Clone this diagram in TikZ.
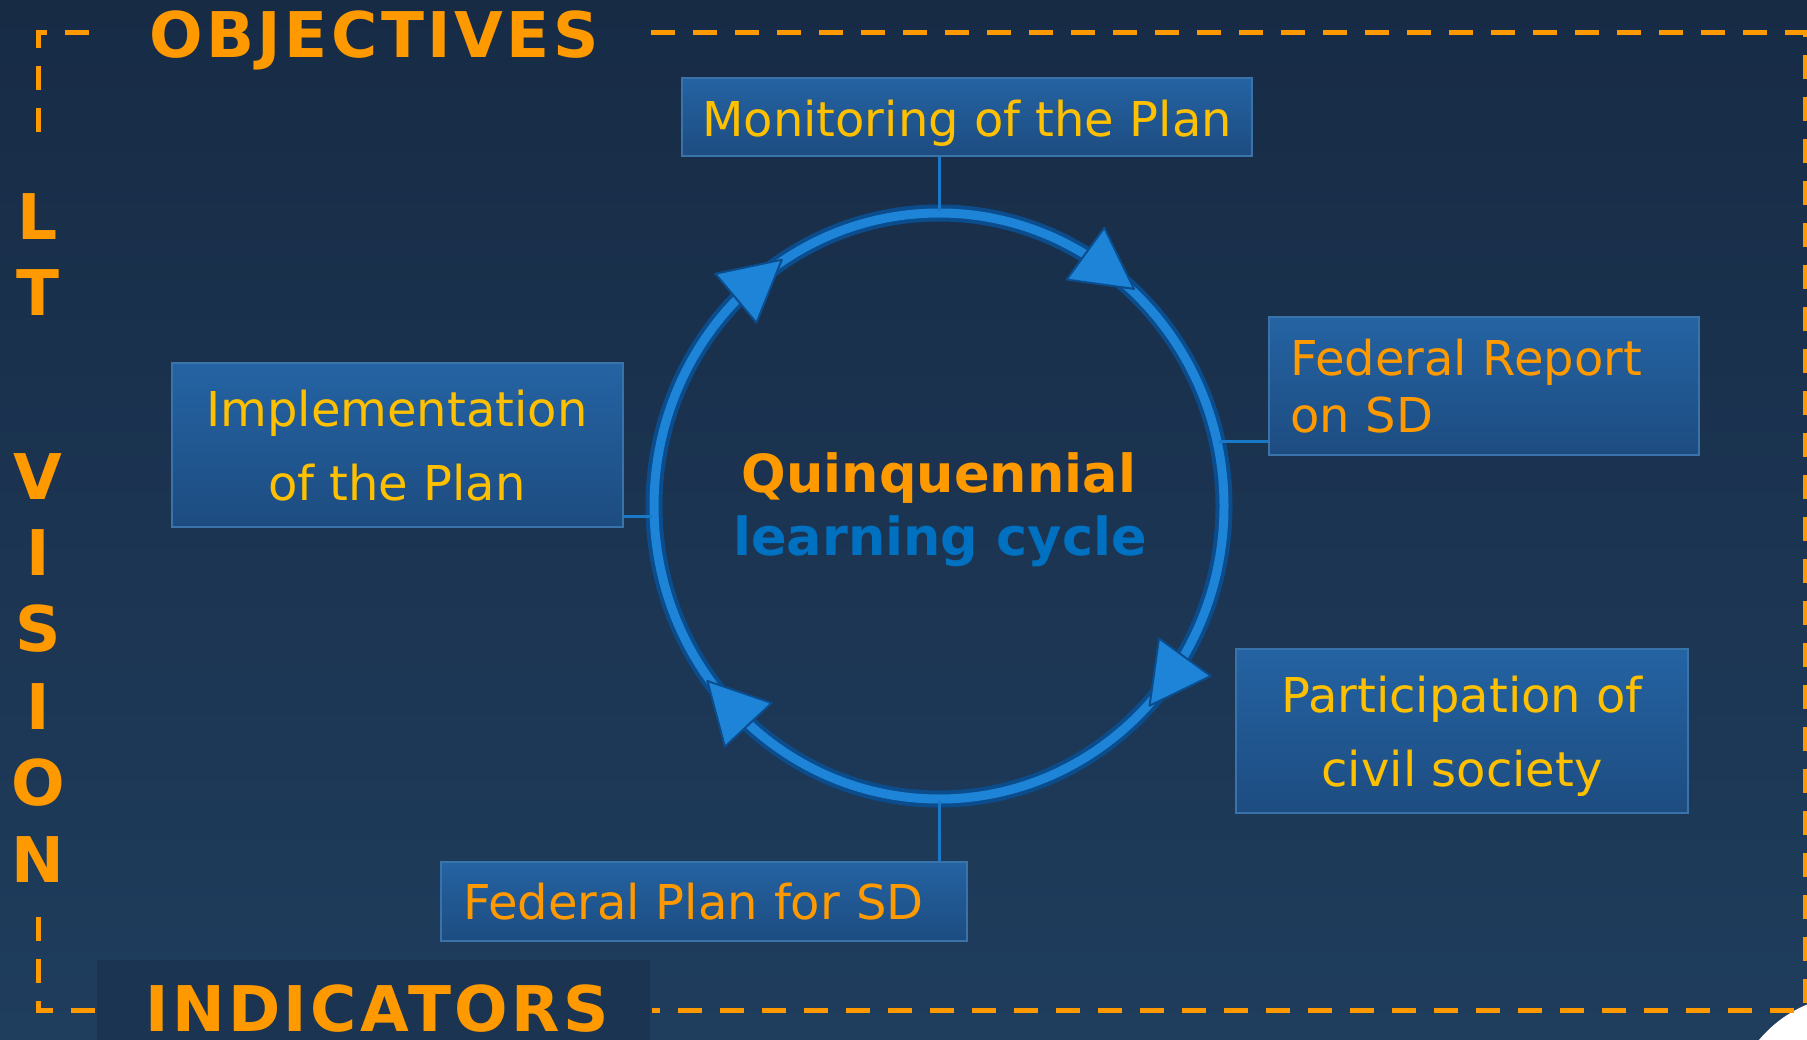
\documentclass[tikz,border=0pt]{standalone}
\usepackage{fontspec}
\setmainfont{DejaVu Sans}
\newfontfamily\spacedfont{DejaVu Sans}[LetterSpace=5.5]
\usetikzlibrary{shapes.geometric}

\definecolor{bgtop}{HTML}{172B45}
\definecolor{bgbot}{HTML}{1F3D5D}
\definecolor{patch}{HTML}{1B3451}
\definecolor{gold}{HTML}{FFC000}
\definecolor{titleorange}{HTML}{FF9900}
\definecolor{boxtop}{HTML}{2463A3}
\definecolor{boxbot}{HTML}{1D4C80}
\definecolor{boxline}{HTML}{3A72AA}
\definecolor{ringdark}{HTML}{0B4C8C}
\definecolor{ringmid}{HTML}{1E84D8}
\definecolor{linkblue}{HTML}{1A78C8}
\definecolor{cycleblue}{HTML}{0070C0}

\tikzset{
  planbox/.style={draw=boxline, line width=2pt, top color=boxtop, bottom color=boxbot,
    inner sep=0pt, font=\fontsize{48}{74}\selectfont},
  dashframe/.style={draw=titleorange, line width=5pt, dash pattern=on 24pt off 18pt},
  heading/.style={text=titleorange, font=\fontsize{63}{63}\selectfont\bfseries,
    inner sep=0pt, anchor=base},
  cycletext/.style={font=\fontsize{52.5}{52.5}\selectfont\bfseries, inner sep=0pt, anchor=base},
  link/.style={draw=linkblue, line width=3pt},
  ring/.style={ellipse, draw=ringdark, line width=4pt, double=ringmid, double distance=9pt,
    minimum width=570pt, minimum height=586pt, inner sep=0pt},
  arrowcone/.style={fill=ringmid, draw=ringdark, line width=2pt, line join=round},
}

\begin{document}
\begin{tikzpicture}[x=1pt, y=-1pt]
  \useasboundingbox (0,0) rectangle (1807,1040);
  \shade[top color=bgtop, bottom color=bgbot] (0,0) rectangle (1807,1040);
  \fill[patch] (97,960) rectangle (650,1040);
  \begin{scope}
    \clip (0,0) rectangle (1807,1040);
    \fill[white] (1855,1120) circle[radius=125];
  \end{scope}

  \draw[dashframe] (38,132) -- (38,33) -- (95,33);
  \draw[dashframe] (651,33) -- (1805,33) -- (1805,1010) -- (652,1010);
  \draw[dashframe] (95,1010) -- (38,1010) -- (38,915);

  \node[heading, font=\fontsize{63}{63}\selectfont\spacedfont\bfseries] (obj) at (374,58) {OBJECTIVES};
  \node[heading, font=\fontsize{63}{63}\selectfont\spacedfont\bfseries] (ind) at (377,1031) {INDICATORS};
  \foreach \ch/\y in {L/240,T/316,V/499,I/575,S/651,I/729,O/805,N/882}
    \node[heading] (lt\y) at (38,\y) {\ch};

  \node[planbox, minimum width=570pt, minimum height=78pt, text=gold,
    text height=40pt, text depth=0pt] (mon) at (967,117) {Monitoring of the Plan};
  \node[planbox, minimum width=430pt, minimum height=137pt, text=titleorange,
    font=\fontsize{48}{57}\selectfont, text width=388pt, align=left] (rep) at (1484,386) {Federal Report\\on SD};
  \node[planbox, minimum width=452pt, minimum height=164pt, text=gold,
    align=center, text depth=-10pt] (part) at (1462,731) {Participation of\\civil society};
  \node[planbox, minimum width=526pt, minimum height=79pt, text=titleorange,
    text width=482pt, align=left, text height=37pt, text depth=0pt] (plan) at (704,901) {Federal Plan for SD};
  \node[planbox, minimum width=451pt, minimum height=163pt, text=gold,
    align=center, text depth=-10pt] (impl) at (397,445) {Implementation\\of the Plan};

  \node[ring] (cycle) at (939,506) {};
  \draw[link] (cycle.north) -- (cycle.north |- mon.south);
  \draw[link] (cycle.south) -- (cycle.south |- plan.north);
  \draw[link] (cycle.13) -- (cycle.13 -| rep.west);
  \draw[link] (cycle.182) -- (cycle.182 -| impl.east);

  \foreach \a in {130,54,-36,223}
    \filldraw[arrowcone]
      ({939+285*cos(\a)+34*sin(\a)},{506-293*sin(\a)+34*cos(\a)})
      -- ({939+285*cos(\a)-26*sin(\a)+32*cos(\a)},{506-293*sin(\a)-26*cos(\a)-32*sin(\a)})
      -- ({939+285*cos(\a)-26*sin(\a)-32*cos(\a)},{506-293*sin(\a)-26*cos(\a)+32*sin(\a)})
      -- cycle;

  \node[cycletext, text=titleorange] (quin) at (939,492) {Quinquennial};
  \node[cycletext, text=cycleblue] (learn) at (940,555) {learning cycle};
\end{tikzpicture}
\end{document}
